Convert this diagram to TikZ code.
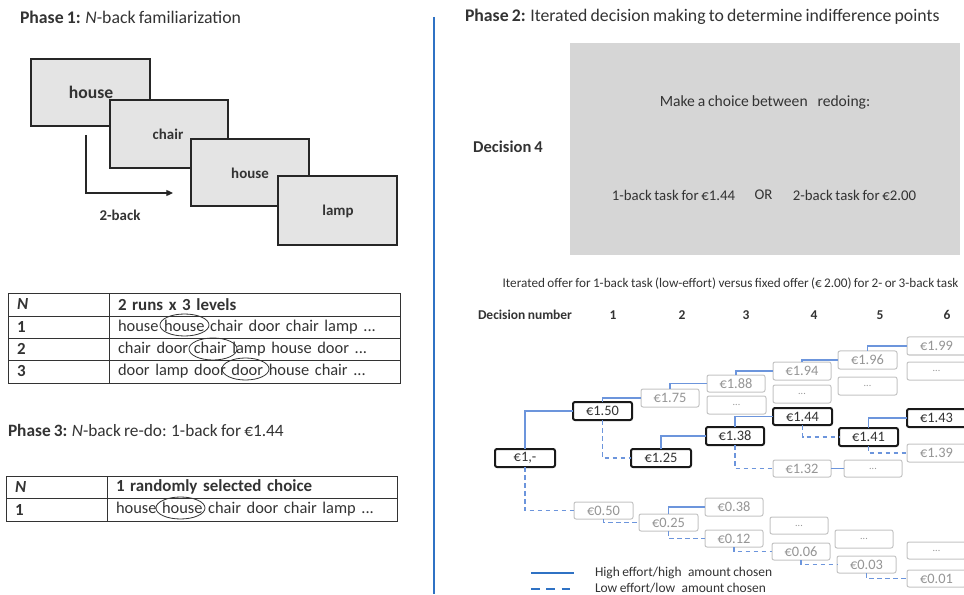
\documentclass[tikz,border=0pt]{standalone}
\usepackage{fontspec}
\setmainfont[WordSpace=0.8]{Carlito}
\usetikzlibrary{arrows.meta,shapes.geometric}
\definecolor{txt}{HTML}{333333}
\definecolor{cardfill}{HTML}{E4E4E4}
\definecolor{panel}{HTML}{D6D6D6}
\definecolor{linkblue}{HTML}{6C95DC}
\definecolor{axisblue}{HTML}{2F72C4}
\definecolor{faint}{HTML}{C4C4C4}
\definecolor{fainttxt}{HTML}{959595}
\newcommand{\fsz}[1]{\fontsize{#1}{#1}\selectfont}
\newcommand{\more}{{\fsz{7.5}...}}
\tikzset{
 every node/.style={text=txt,inner sep=0pt,outer sep=0pt},
 head/.style={font=\fsz{13.3},anchor=west},
 small/.style={font=\fsz{9.9}},
 num/.style={font=\fsz{10.1}\bfseries},
 legendtxt/.style={font=\fsz{10.1},anchor=west},
 card/.style={draw=black!85,line width=1.1pt,fill=cardfill},
 cardtxt/.style={font=\fsz{11.2}\bfseries},
 cell/.style={draw=txt,line width=0.7pt,font=\fsz{12.7},align=left},
 oval/.style={draw=txt,line width=0.6pt,ellipse},
 live/.style={draw=black!90,line width=1.5pt,rounded corners=1.5pt,font=\fsz{10.8},fill=white},
 idle/.style={draw=faint,line width=0.75pt,rounded corners=1.5pt,text=fainttxt,font=\fsz{10.8},fill=white},
 hi/.style={draw=linkblue,line width=0.95pt},
 lo/.style={draw=linkblue,line width=0.95pt,dash pattern=on 3.5pt off 2.5pt},
}
\newcommand{\bx}[7]{\node[#1,minimum width={(#5-#3)*0.75pt},minimum height={(#6-#4)*0.75pt}] (#2) at ({(#3+#5)/2},{(#4+#6)/2}) {#7};}
\newcommand{\cel}[7]{\node[cell,minimum width={(#4-#2)*0.75pt},minimum height={(#5-#3)*0.75pt},text width={(#4-#2-18)*0.75pt}] (#1) at ({(#2+#4)/2},{(#3+#5)/2}) {#6#7};}
\begin{document}
\begin{tikzpicture}[x=0.75pt,y=-0.75pt]
\useasboundingbox (0,0) rectangle (964,595);
% headings
\node[head] (h1) at (20,17) {\textbf{Phase 1:} \textit{N}-back familiarization};
\node[head] (h2) at (465,17) {\textbf{Phase 2:} Iterated decision making to determine indifference points};
\node[head,font=\fsz{13}] (h3) at (8,430) {\textbf{Phase 3:} \textit{N}-back re-do: 1-back for €1.44};
\coordinate (divtop) at (434,17);
\coordinate (divbot) at (434,594);
\draw[axisblue,line width=1.2pt] (divtop) -- (divbot);
% cards
\bx{card}{c1}{31}{59}{150}{126}{}
\bx{card}{c2}{110}{100}{228}{168}{}
\bx{card}{c3}{191}{139}{309}{206}{}
\bx{card}{c4}{278}{176}{397}{245}{}
\node[cardtxt,font=\fsz{13.2}\bfseries] (w1) at (91,92) {house};
\node[cardtxt] (w2) at (168,134) {chair};
\node[cardtxt] (w3) at (250,173) {house};
\node[cardtxt] (w4) at (338,211) {lamp};
\coordinate (arrS) at (86,135);
\coordinate (arrE) at (173,193);
\draw[black!85,line width=0.9pt,-{Triangle[length=5pt,width=4.5pt]}] (arrS) |- (arrE);
\node[cardtxt] (back) at (120,215) {2-back};
% table 1
\cel{a0}{8}{293}{109}{316}{\bfseries\itshape}{N}
\cel{b0}{109}{293}{400}{316}{\bfseries}{2 runs x 3 levels}
\cel{a1}{8}{316}{109}{338}{\bfseries}{1}
\cel{b1}{109}{316}{400}{338}{\fsz{12.3}}{house house chair door chair lamp ...}
\cel{a2}{8}{338}{109}{360}{\bfseries}{2}
\cel{b2}{109}{338}{400}{360}{\fsz{12.3}}{chair door chair lamp house door ...}
\cel{a3}{8}{360}{109}{383}{\bfseries}{3}
\cel{b3}{109}{360}{400}{383}{\fsz{12.3}}{door lamp door door house chair ...}
\bx{oval}{o1}{160}{314}{209}{336}{}
\bx{oval}{o2}{189}{338}{237}{360}{}
\bx{oval}{o3}{222}{358}{269}{380}{}
% table 2
\cel{d0}{6}{476}{107}{498}{\bfseries\itshape}{N}
\cel{e0}{107}{476}{397}{498}{\bfseries}{1 randomly selected choice}
\cel{d1}{6}{498}{107}{521}{\bfseries}{1}
\cel{e1}{107}{498}{397}{521}{\fsz{12.3}}{house house chair door chair lamp ...}
\bx{oval}{o4}{156}{497}{205}{519}{}
% decision panel
\bx{draw=none,fill=panel}{pan}{570}{43}{960}{255}{}
\node[font=\fsz{12.4}\bfseries] (dec) at (508,147) {Decision 4};
\node[font=\fsz{11.7}] (mk) at (765,102) {Make a choice between\hspace{0.45em} redoing:};
\node[font=\fsz{11.1}] (op1) at (673.5,195) {1-back task for €1.44};
\node[font=\fsz{11.1}] (or) at (763.5,195) {OR};
\node[font=\fsz{11.1}] (op2) at (854.5,195) {2-back task for €2.00};
\node[small] (iter) at (730.5,284) {Iterated offer for 1-back task (low-effort) versus fixed offer (€ 2.00) for 2- or 3-back task};
\node[num] (dn) at (525,315) {Decision number};
\node[num] (n1) at (613,315) {1};
\node[num] (n2) at (682,315) {2};
\node[num] (n3) at (746,315) {3};
\node[num] (n4) at (814,315) {4};
\node[num] (n5) at (880,315) {5};
\node[num] (n6) at (947,315) {6};
% tree
\bx{live}{t100}{495}{449}{555}{467}{€1,-}
\bx{live}{t150}{573}{402}{632}{420}{€1.50}
\bx{live}{t125}{631}{449}{691}{467}{€1.25}
\bx{idle}{t175}{641}{389}{699}{407}{€1.75}
\bx{idle}{t050}{574}{502}{633}{519}{€0.50}
\bx{idle}{t025}{639}{514}{698}{531}{€0.25}
\bx{idle}{t188}{707}{375}{765}{392}{€1.88}
\bx{idle}{u3a}{707}{396}{766}{414}{\more}
\bx{live}{t138}{706}{427}{764}{445}{€1.38}
\bx{idle}{t038}{705}{498}{763}{516}{€0.38}
\bx{idle}{t012}{705}{530}{763}{547}{€0.12}
\bx{idle}{t194}{773}{362}{831}{380}{€1.94}
\bx{idle}{u4a}{773}{385}{831}{403}{\more}
\bx{live}{t144}{773}{408}{832}{425}{€1.44}
\bx{idle}{t132}{773}{460}{831}{477}{€1.32}
\bx{idle}{u4b}{770}{517}{828}{534}{\more}
\bx{idle}{t006}{772}{543}{830}{560}{€0.06}
\bx{idle}{t196}{838}{351}{897}{369}{€1.96}
\bx{idle}{u5a}{838}{377}{897}{395}{\more}
\bx{live}{t141}{839}{428}{898}{446}{€1.41}
\bx{idle}{u5b}{844}{460}{902}{477}{\more}
\bx{idle}{u5c}{835}{530}{893}{548}{\more}
\bx{idle}{t003}{837}{556}{896}{573}{€0.03}
\bx{idle}{t199}{907}{337}{966}{355}{€1.99}
\bx{idle}{u6a}{907}{362}{966}{380}{\more}
\bx{live}{t143}{907}{409}{966}{427}{€1.43}
\bx{idle}{t139}{907}{444}{966}{462}{€1.39}
\bx{idle}{u6b}{907}{542}{966}{559}{\more}
\bx{idle}{t001}{907}{570}{966}{587}{€0.01}
% links
\draw[hi] (t100.north) |- (t150.west);
\draw[hi] (t150.north) |- (t175.west);
\draw[hi] (t175.north) |- (t188.west);
\draw[hi] (t188.north) |- (t194.west);
\draw[hi] (t194.north) |- (t196.west);
\draw[hi] (t196.north) |- (t199.west);
\draw[hi] (t125.north) |- (t138.west);
\draw[hi] (t138.north) |- (t144.west);
\draw[hi] (t141.north) |- (t143.west);
\draw[hi] (t132.east) -- (u5b.west);
\draw[hi] (t025.north) |- (t038.west);
\draw[lo] (t100.south) |- (t050.west);
\draw[lo] (t150.south) |- (t125.west);
\draw[lo] (t138.south) |- (t132.west);
\draw[lo] (t144.south) |- (t141.west);
\draw[lo] (t141.south) |- (t139.west);
\draw[lo] (t050.south) |- (t025.west);
\draw[lo] (t025.south) |- (t012.west);
\draw[lo] (t012.south) |- (t006.west);
\draw[lo] (t006.south) |- (t003.west);
\draw[lo] (t003.south) |- (t001.west);
% legend
\coordinate (la) at (531,573);
\coordinate (lb) at (574,573);
\coordinate (lc) at (531,589);
\coordinate (ld) at (574,589);
\draw[axisblue,line width=1.1pt] (la) -- (lb);
\draw[axisblue,line width=1.1pt,dash pattern=on 6.5pt off 5pt] (lc) -- (ld);
\node[legendtxt] (lg1) at (595,573) {High effort/high\hspace{0.3em} amount chosen};
\node[legendtxt] (lg2) at (595,588) {Low effort/low\hspace{0.3em} amount chosen};
\end{tikzpicture}
\end{document}
